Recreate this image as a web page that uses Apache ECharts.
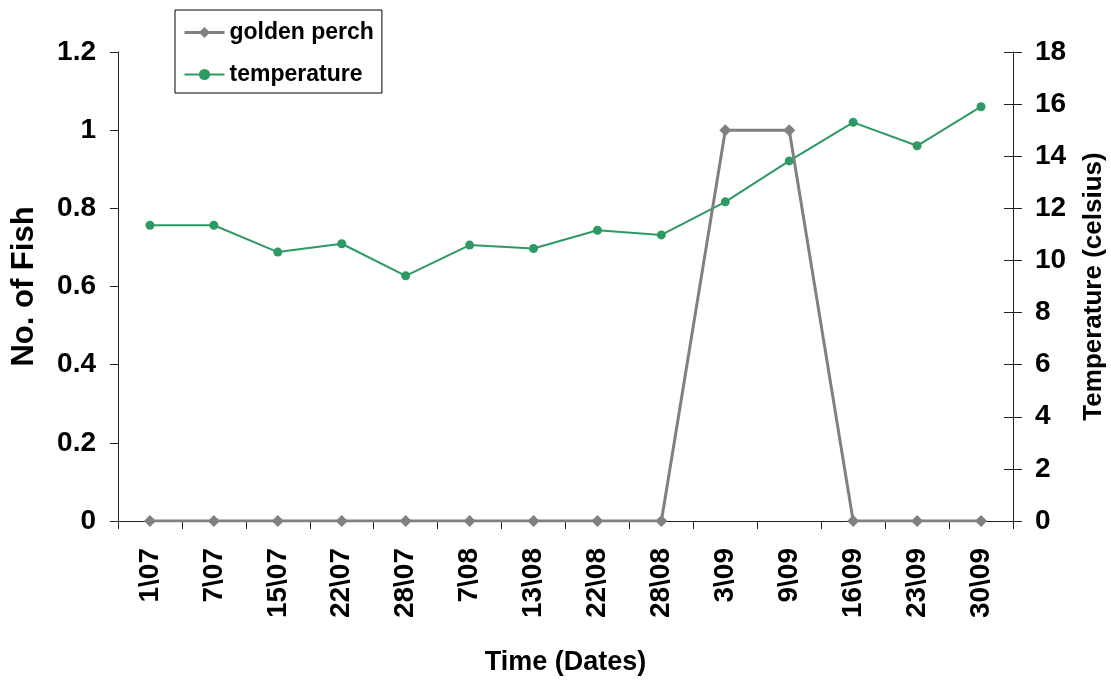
<!DOCTYPE html>
<html>
<head>
<meta charset="utf-8">
<script src="https://cdn.jsdelivr.net/npm/echarts@6/dist/echarts.min.js"></script>
<style>
  html, body { margin: 0; padding: 0; background: #fff; }
  #chart { width: 1111px; height: 682px; }
</style>
</head>
<body>
<div id="chart"></div>
<script>
// Sampling dates (day\month)
const dates = ['1\\07', '7\\07', '15\\07', '22\\07', '28\\07', '7\\08', '13\\08',
               '22\\08', '28\\08', '3\\09', '9\\09', '16\\09', '23\\09', '30\\09'];
// Golden perch caught per sampling date
const goldenPerch = [0, 0, 0, 0, 0, 0, 0, 0, 0, 1, 1, 0, 0, 0];
// Water temperature (°C) per sampling date
const temperature = [11.35, 11.35, 10.32, 10.64, 9.41, 10.59, 10.46,
                     11.16, 10.98, 12.25, 13.82, 15.30, 14.40, 15.90];
// Axis tick settings
const fishTicks = { min: 0, max: 1.2, interval: 0.2 };
const tempTicks = { min: 0, max: 18, interval: 2 };

const FONT = '"Liberation Sans", Arial, sans-serif';
const axisColor = '#222';
const perchColor = '#808080';
const tempColor = '#2e9a63';

const chart = echarts.init(document.getElementById('chart'), null, { renderer: 'canvas' });

chart.setOption({
  animation: false,
  backgroundColor: '#fff',
  textStyle: { fontFamily: FONT },
  grid: {
    left: 118, right: 98, top: 52, bottom: 161,
    containLabel: false, outerBoundsMode: 'none'
  },
  legend: {
    orient: 'vertical',
    left: 175,
    top: 10,
    padding: [11, 8, 7, 8],
    itemGap: 19,
    itemWidth: 40,
    itemHeight: 14,
    borderColor: '#000',
    borderWidth: 1,
    backgroundColor: '#fff',
    textStyle: { fontSize: 23, fontWeight: 'bold', color: '#000', fontFamily: FONT },
    data: [
      { name: 'golden perch', lineStyle: { width: 3, color: perchColor } },
      { name: 'temperature', lineStyle: { width: 2, color: tempColor } }
    ]
  },
  xAxis: {
    type: 'category',
    data: dates,
    boundaryGap: true,
    name: 'Time (Dates)',
    nameLocation: 'middle',
    nameGap: 128,
    nameTextStyle: { fontSize: 27, fontWeight: 'bold', color: '#000', fontFamily: FONT },
    axisLine: { show: true, onZero: false, lineStyle: { color: axisColor, width: 1 } },
    axisTick: { show: true, interval: 0, length: 8, lineStyle: { color: axisColor } },
    axisLabel: {
      interval: 0, rotate: 90, margin: 27,
      fontSize: 28, fontWeight: 'bold', color: '#000', fontFamily: FONT
    },
    splitLine: { show: false }
  },
  yAxis: [
    {
      type: 'value',
      position: 'left',
      min: fishTicks.min, max: fishTicks.max, interval: fishTicks.interval,
      name: 'No. of Fish',
      nameLocation: 'middle',
      nameRotate: 90,
      nameGap: 78,
      nameTextStyle: { fontSize: 31, fontWeight: 'bold', color: '#000', fontFamily: FONT },
      axisLine: { show: true, lineStyle: { color: axisColor, width: 1 } },
      axisTick: { show: true, length: 8, lineStyle: { color: axisColor } },
      axisLabel: { margin: 22, fontSize: 28, fontWeight: 'bold', color: '#000', fontFamily: FONT },
      splitLine: { show: false }
    },
    {
      type: 'value',
      position: 'right',
      min: tempTicks.min, max: tempTicks.max, interval: tempTicks.interval,
      name: 'Temperature (celsius)',
      nameLocation: 'middle',
      nameRotate: 90,
      nameGap: 68,
      nameTextStyle: { fontSize: 26, fontWeight: 'bold', color: '#000', fontFamily: FONT },
      axisLine: { show: true, lineStyle: { color: axisColor, width: 1 } },
      axisTick: { show: true, length: 9, lineStyle: { color: axisColor } },
      axisLabel: { margin: 22, fontSize: 28, fontWeight: 'bold', color: '#000', fontFamily: FONT },
      splitLine: { show: false }
    },
    {
      // inner half of the crossing ticks on the temperature axis
      type: 'value',
      position: 'right',
      min: tempTicks.min, max: tempTicks.max, interval: tempTicks.interval,
      axisLine: { show: false },
      axisTick: { show: true, inside: true, length: 9, lineStyle: { color: axisColor } },
      axisLabel: { show: false },
      splitLine: { show: false }
    }
  ],
  series: [
    {
      name: 'golden perch',
      type: 'line',
      yAxisIndex: 0,
      data: goldenPerch,
      symbol: 'diamond',
      symbolSize: 12,
      showAllSymbol: true,
      z: 3,
      itemStyle: { color: perchColor },
      lineStyle: { color: perchColor, width: 3 }
    },
    {
      name: 'temperature',
      type: 'line',
      yAxisIndex: 1,
      data: temperature,
      symbol: 'circle',
      symbolSize: 9,
      showAllSymbol: true,
      z: 2,
      itemStyle: { color: tempColor },
      lineStyle: { color: tempColor, width: 2 }
    }
  ]
});
</script>
</body>
</html>
